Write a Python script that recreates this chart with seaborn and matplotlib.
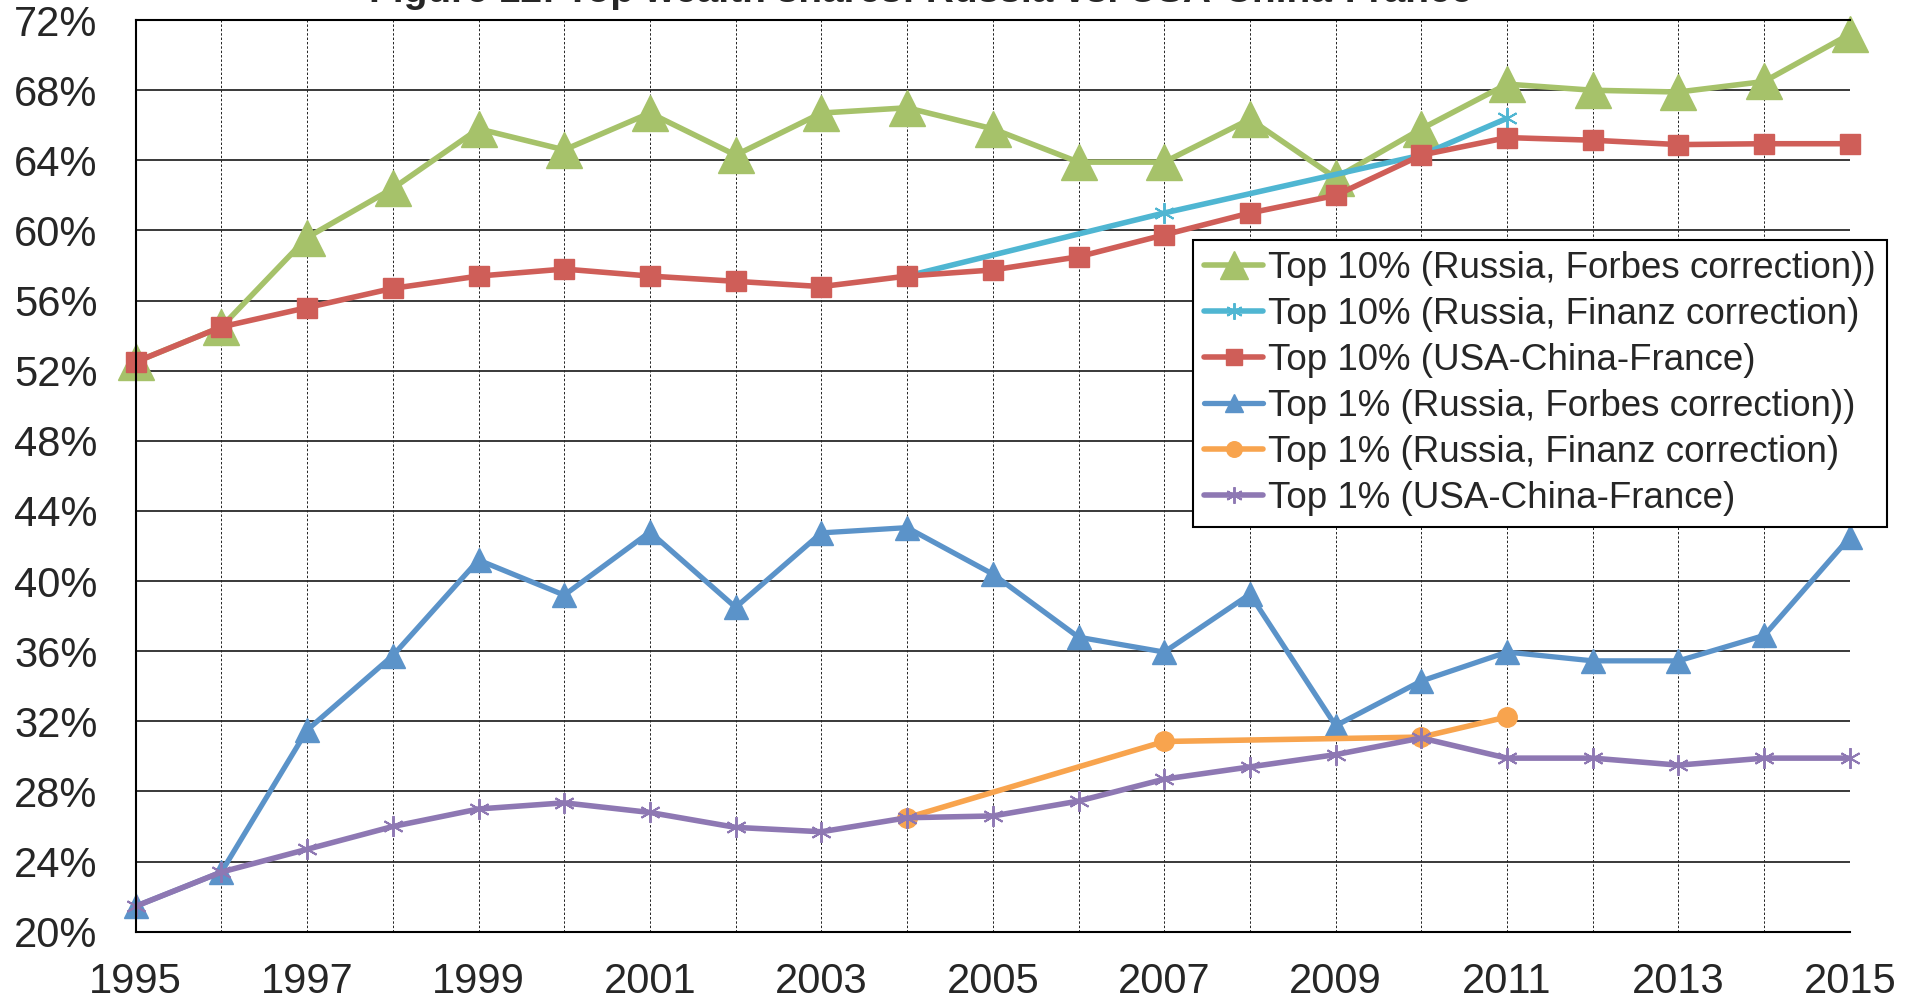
import matplotlib
matplotlib.use("Agg")
import matplotlib.pyplot as plt
import matplotlib.ticker as mticker
import seaborn as sns
import pandas as pd

# ---- data (percent of total wealth) ----
years = list(range(1995, 2016))
finanz_years = [2004, 2007, 2010, 2011]

top10_forbes = [52.5, 54.5, 59.6, 62.4, 65.8, 64.6, 66.7, 64.3, 66.7, 67.0, 65.8,
                63.9, 63.9, 66.35, 63.0, 65.8, 68.35, 68.0, 67.9, 68.5, 71.2]
top10_finanz = [57.4, 61.0, 64.3, 66.4]
top10_ucf = [52.5, 54.5, 55.6, 56.7, 57.4, 57.8, 57.4, 57.1, 56.8, 57.4, 57.75,
             58.5, 59.75, 61.0, 62.0, 64.3, 65.3, 65.15, 64.9, 64.95, 64.95]
top1_forbes = [21.45, 23.4, 31.5, 35.75, 41.2, 39.2, 42.8, 38.5, 42.75, 43.05, 40.4,
               36.8, 35.95, 39.25, 31.75, 34.3, 35.95, 35.45, 35.45, 36.9, 42.5]
top1_finanz = [26.5, 30.85, 31.1, 32.25]
top1_ucf = [21.45, 23.4, 24.7, 26.0, 27.0, 27.35, 26.8, 25.95, 25.7, 26.5, 26.6,
            27.45, 28.7, 29.4, 30.1, 31.05, 29.9, 29.9, 29.5, 29.9, 29.9]

labels = [
    "Top 10% (Russia, Forbes correction))",
    "Top 10% (Russia, Finanz correction)",
    "Top 10% (USA-China-France)",
    "Top 1% (Russia, Forbes correction))",
    "Top 1% (Russia, Finanz correction)",
    "Top 1% (USA-China-France)",
]
y_ticks = list(range(20, 73, 4))
x_label_years = list(range(1995, 2016, 2))

# ---- style ----
sns.set_style("white")
plt.rcParams["font.family"] = ["Liberation Sans", "DejaVu Sans"]

series = [
    (years, top10_forbes, labels[0], "#A6C26A", "^", 26, 4.0, 1.0),
    (finanz_years, top10_finanz, labels[1], "#4FB6D2", (6, 2, 0), 15, 4.0, 1.4),
    (years, top10_ucf, labels[2], "#CF5E58", "s", 15, 4.0, 1.0),
    (years, top1_forbes, labels[3], "#5B93C9", "^", 17, 3.8, 1.0),
    (finanz_years, top1_finanz, labels[4], "#F8A44E", "o", 14, 4.0, 1.0),
    (years, top1_ucf, labels[5], "#8E78B3", (6, 2, 0), 15, 4.0, 1.4),
]

fig = plt.figure(figsize=(19.19, 10.07), dpi=100)
ax = fig.add_axes([0.0707, 0.0748, 0.964 - 0.0707, 0.980 - 0.0748])

for xs, ys, lab, col, mk, ms, lw, mew in series:
    df = pd.DataFrame({"year": xs, "share": ys})
    sns.lineplot(data=df, x="year", y="share", ax=ax, color=col, label=lab,
                 marker=mk, markersize=ms, linewidth=lw,
                 markeredgecolor=col, markerfacecolor=col, markeredgewidth=mew,
                 clip_on=False, estimator=None, sort=False)

ax.set_xlim(1995, 2015)
ax.set_ylim(20, 72)
ax.set_xlabel("")
ax.set_ylabel("")

ax.set_yticks(y_ticks)
ax.yaxis.set_major_formatter(mticker.FuncFormatter(lambda v, p: f"{int(round(v))}%"))
ax.set_xticks(years)
ax.set_xticklabels([str(y) if y in x_label_years else "" for y in years])

ax.yaxis.grid(True, color="#2a2a2a", linewidth=1.3, linestyle="-")
ax.xaxis.grid(True, color="#222222", linewidth=0.7, linestyle=(0, (2.5, 2)))
ax.set_axisbelow(True)

for side in ("left", "bottom", "top"):
    ax.spines[side].set_visible(True)
    ax.spines[side].set_color("black")
    ax.spines[side].set_linewidth(1.5)
ax.spines["right"].set_visible(False)

ax.tick_params(axis="y", direction="out", length=8.6, width=1.2, color="black",
               pad=19, labelsize=30)
ax.tick_params(axis="x", direction="out", length=8.6, width=0.8, color="black",
               pad=13, labelsize=30)

# heading sits above the top edge, only its lowest strokes fall inside the canvas
fig.text(0.48, 0.9985, "Figure 12: Top wealth shares: Russia vs. USA-China-France",
         ha="center", va="baseline", fontsize=28, fontweight="bold")

handles, labs = ax.get_legend_handles_labels()
leg = ax.legend(handles, labs, loc="upper left", bbox_to_anchor=(0.6217, 0.7617),
                bbox_transform=fig.transFigure, frameon=True, fancybox=False,
                edgecolor="black", framealpha=1, fontsize=26.5, markerscale=0.8,
                handlelength=1.6, handletextpad=0.15, labelspacing=0.3,
                borderpad=0.3, borderaxespad=0)
leg.get_frame().set_linewidth(1.5)

fig.savefig("out.png", dpi=100)
